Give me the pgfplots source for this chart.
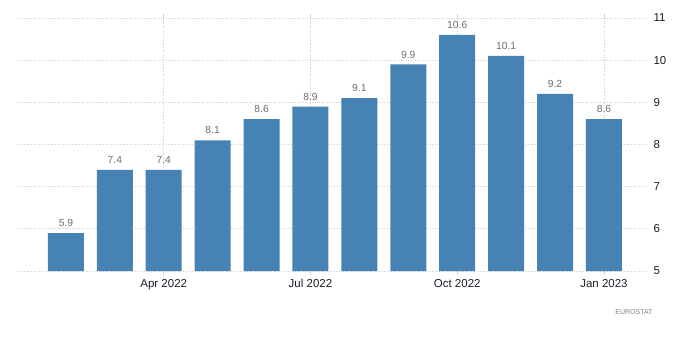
\documentclass[border=0pt]{standalone}
\usepackage{pgfplots}
\pgfplotsset{compat=1.18}
\usepackage{fontspec}
\setmainfont{Liberation Sans}
\definecolor{barblue}{HTML}{4682B4}
\definecolor{gridc}{HTML}{CFCFCF}
\definecolor{vallab}{HTML}{6E6E6E}
\definecolor{ticklab}{HTML}{1C1C28}
\definecolor{srcc}{HTML}{808080}
\begin{document}
\begin{tikzpicture}
\useasboundingbox (-17pt,-90pt) rectangle (683pt,271pt);
\begin{axis}[
  scale only axis, width=630pt, height=253pt,
  xmin=-1, xmax=11.88, ymin=5, ymax=11,
  axis line style={draw=none},
  ybar, bar width=36pt,
  ytick={5,6,7,8,9,10,11},
  yticklabel pos=right,
  xtick={2,5,8,11},
  xticklabels={Apr 2022, Jul 2022, Oct 2022, Jan 2023},
  ymajorgrids, xmajorgrids,
  grid style={draw=gridc, dotted, line width=0.8pt},
  tick align=outside,
  xtick style={draw=gridc, line width=0.8pt},
  major tick length=4pt,
  ytick style={draw=none},
  /pgf/number format/assume math mode=true,
  xticklabel style={font=\fontsize{11.5}{12}\selectfont, text=ticklab, yshift=-1pt},
  yticklabel style={font=\fontsize{11.5}{12}\selectfont, text=ticklab, anchor=west, xshift=-1pt},
  nodes near coords,
  nodes near coords style={font=\fontsize{10.3}{11}\selectfont, text=vallab, inner sep=0pt, anchor=south, yshift=6pt, /pgf/number format/fixed, /pgf/number format/fixed zerofill, /pgf/number format/precision=1, /pgf/number format/assume math mode=true},
]
\addplot[fill=barblue, draw=none] coordinates {
  (0,5.9) (1,7.4) (2,7.4) (3,8.1) (4,8.6) (5,8.9)
  (6,9.1) (7,9.9) (8,10.6) (9,10.1) (10,9.2) (11,8.6)
};
\end{axis}
\node[anchor=east, font=\fontsize{7}{8}\selectfont, text=srcc] at (639pt,-41pt) {EUROSTAT};
\end{tikzpicture}
\end{document}
